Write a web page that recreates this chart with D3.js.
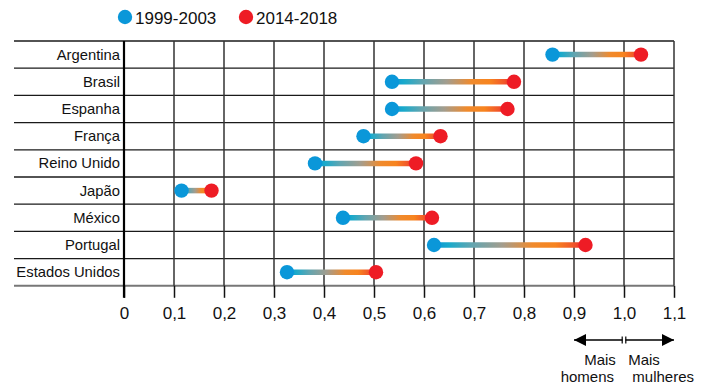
<!DOCTYPE html>
<html>
<head>
<meta charset="utf-8">
<script src="https://cdn.jsdelivr.net/npm/d3@7"></script>
<style>
  body { margin: 0; background: #fff; }
  svg { display: block; font-family: "Liberation Sans", Arial, Helvetica, sans-serif; }
</style>
</head>
<body>
<svg id="chart" width="707" height="389"></svg>
<script>
const countries = ["Argentina", "Brasil", "Espanha", "França", "Reino Unido", "Japão", "México", "Portugal", "Estados Unidos"];
const values1999 = [0.857, 0.536, 0.536, 0.479, 0.382, 0.115, 0.438, 0.620, 0.326];
const values2014 = [1.034, 0.780, 0.767, 0.633, 0.584, 0.175, 0.616, 0.923, 0.504];
const seriesNames = ["1999-2003", "2014-2018"];
const tickValues = [0, 0.1, 0.2, 0.3, 0.4, 0.5, 0.6, 0.7, 0.8, 0.9, 1.0, 1.1];

const blue = "#0a97d9", red = "#ee1c25";
const svg = d3.select("#chart");

const x = d3.scaleLinear().domain([0, 1.1]).range([124, 674]);
const y = d3.scaleBand().domain(countries).range([41, 285.8]).padding(0);
const gridLeft = 14;
const bottom = 285.8;

// horizontal grid lines
const hLines = countries.map(c => y(c)).concat([bottom]);
svg.append("g").selectAll("line").data(hLines).join("line")
  .attr("x1", gridLeft).attr("x2", x(1.1))
  .attr("y1", d => d).attr("y2", d => d)
  .attr("stroke", (d, i) => i === hLines.length - 1 ? "#777" : "#1a1a1a")
  .attr("stroke-width", (d, i) => i === hLines.length - 1 ? 2 : 1.3);

// vertical grid lines
svg.append("g").selectAll("line").data(tickValues.slice(1)).join("line")
  .attr("x1", d => x(d)).attr("x2", d => x(d))
  .attr("y1", 41).attr("y2", bottom)
  .attr("stroke", "#333").attr("stroke-width", 1.5);

// axis
const axis = d3.axisBottom(x).tickValues(tickValues)
  .tickFormat(d => d3.format(".1f")(d).replace(".", ",").replace(/^0,0$/, "0"))
  .tickSize(12).tickSizeOuter(0).tickPadding(9);
const ax = svg.append("g").attr("transform", `translate(0,${bottom})`).call(axis);
ax.select(".domain").remove();
ax.selectAll(".tick line").attr("stroke", "#111").attr("stroke-width", 1.5);
ax.selectAll(".tick text").attr("font-size", 17).attr("fill", "#111")
  .attr("font-family", "'Liberation Sans', Arial, sans-serif");

// zero line (thicker)
svg.append("line").attr("x1", x(0)).attr("x2", x(0)).attr("y1", 41).attr("y2", bottom + 12)
  .attr("stroke", "#000").attr("stroke-width", 2.2);

// country labels
svg.append("g").selectAll("text").data(countries).join("text")
  .attr("x", 120).attr("y", d => y(d) + y.bandwidth() / 2 + 5)
  .attr("text-anchor", "end").attr("font-size", 14.8).attr("fill", "#111")
  .text(d => d);

// gradients
const defs = svg.append("defs");
const stops = [
  [0, "#0896d9"], [0.1, "#1aaacb"], [0.25, "#62a5b0"], [0.45, "#a39d8e"], [0.65, "#f08a2c"],
  [0.8, "#f7841f"], [0.92, "#f1562a"], [1, "#ee1c25"]
];
countries.forEach((c, i) => {
  const g = defs.append("linearGradient").attr("id", "grad" + i)
    .attr("gradientUnits", "userSpaceOnUse")
    .attr("x1", x(values1999[i])).attr("x2", x(values2014[i]))
    .attr("y1", 0).attr("y2", 0);
  g.selectAll("stop").data(stops).join("stop")
    .attr("offset", d => d[0]).attr("stop-color", d => d[1]);
});

const rows = countries.map((c, i) => ({ c, i, a: values1999[i], b: values2014[i] }));
svg.append("g").selectAll("line").data(rows).join("line")
  .attr("x1", d => x(d.a)).attr("x2", d => x(d.b))
  .attr("y1", d => y(d.c) + y.bandwidth() / 2).attr("y2", d => y(d.c) + y.bandwidth() / 2)
  .attr("stroke", d => `url(#grad${d.i})`).attr("stroke-width", 5.5);

svg.append("g").selectAll("circle").data(rows).join("circle")
  .attr("cx", d => x(d.a)).attr("cy", d => y(d.c) + y.bandwidth() / 2).attr("r", 7.2).attr("fill", blue);
svg.append("g").selectAll("circle").data(rows).join("circle")
  .attr("cx", d => x(d.b)).attr("cy", d => y(d.c) + y.bandwidth() / 2).attr("r", 7.2).attr("fill", red);

// legend
const legend = svg.append("g");
const legendItems = [{ name: seriesNames[0], color: blue, cx: 125 }, { name: seriesNames[1], color: red, cx: 246 }];
legendItems.forEach(it => {
  legend.append("circle").attr("cx", it.cx).attr("cy", 17).attr("r", 7.2).attr("fill", it.color);
  legend.append("text").attr("x", it.cx + 10).attr("y", 23.5).attr("font-size", 17).attr("fill", "#111").text(it.name);
});

// arrows
const ay = 340;
defs.append("marker").attr("id", "arrow").attr("viewBox", "0 0 10 10")
  .attr("refX", 10).attr("refY", 5).attr("markerWidth", 12).attr("markerHeight", 12)
  .attr("markerUnits", "userSpaceOnUse").attr("orient", "auto-start-reverse")
  .append("path").attr("d", "M0,0 L10,5 L0,10 Z").attr("fill", "#000");
svg.append("line").attr("x1", x(1.0) - 1.5).attr("x2", x(0.9)).attr("y1", ay).attr("y2", ay)
  .attr("stroke", "#000").attr("stroke-width", 1.5).attr("marker-end", "url(#arrow)");
svg.append("line").attr("x1", x(1.0) + 1.5).attr("x2", x(1.1)).attr("y1", ay).attr("y2", ay)
  .attr("stroke", "#000").attr("stroke-width", 1.5).attr("marker-end", "url(#arrow)");
[x(1.0) - 1.8, x(1.0) + 1.8].forEach(px => {
  svg.append("line").attr("x1", px).attr("x2", px).attr("y1", ay - 3.5).attr("y2", ay + 3.5)
    .attr("stroke", "#000").attr("stroke-width", 1.2);
});

const note = svg.append("g").attr("font-size", 15).attr("fill", "#111");
note.append("text").attr("x", 600).attr("y", 365).attr("text-anchor", "middle").text("Mais");
note.append("text").attr("x", 644).attr("y", 365).attr("text-anchor", "middle").text("Mais");
note.append("text").attr("x", 614).attr("y", 382).attr("text-anchor", "end").text("homens");
note.append("text").attr("x", 694).attr("y", 382).attr("text-anchor", "end").text("mulheres");
</script>
</body>
</html>
